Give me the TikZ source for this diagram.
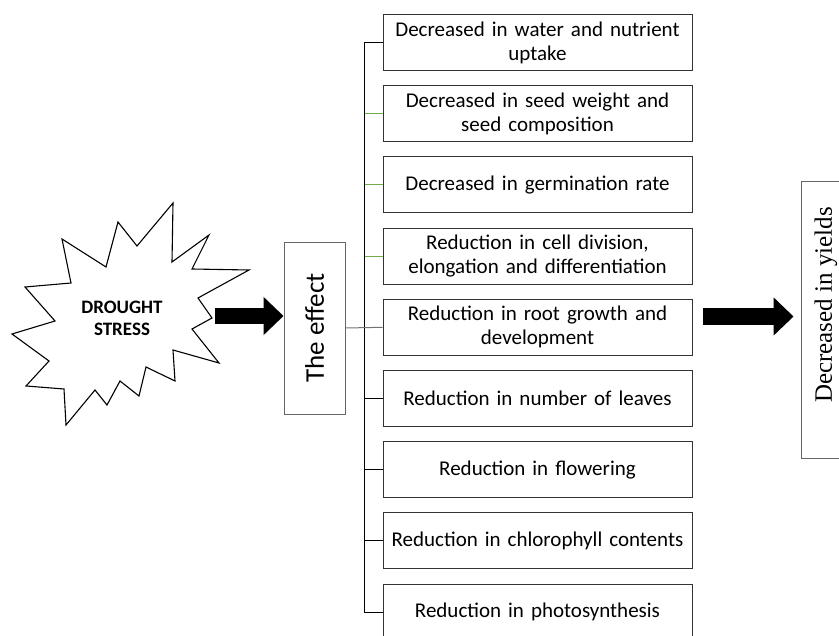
\documentclass[tikz,border=0pt]{standalone}
\usepackage{fontspec}
\setmainfont{Carlito}
\newfontfamily\yieldfont{Liberation Serif}
\usetikzlibrary{arrows.meta}
\definecolor{branchgreen}{RGB}{112,173,71}
\begin{document}
\begin{tikzpicture}[x=1pt,y=-1pt,
  effbox/.style={draw=black!80, line width=0.9pt, minimum width=309pt, minimum height=56pt, inner sep=0pt, text width=309pt, align=center, font={\fontsize{21}{24}\selectfont\hyphenpenalty=10000\relax}},
  bigarrow/.style={line width=16.5pt, -{Triangle[length=20pt,width=37pt]}},
  branch/.style={line width=1pt}]
\useasboundingbox (0,0) rectangle (839,636);
% the burst
\draw[line width=1.1pt, line join=miter] (118,222) -- (137,246) -- (173,203) -- (172,262) -- (209,235) -- (192,269) -- (249,270) -- (198,298) -- (212,318) -- (192,329) -- (219,363) -- (173,350) -- (175,381) -- (146,367) -- (139,396) -- (120,381) -- (107,405) -- (95,390) -- (66,425) -- (64,389) -- (26,386) -- (49,361) -- (12,334) -- (55,321) -- (25,287) -- (71,283) -- (62,239) -- (106,267) -- cycle;
\node[font=\bfseries\fontsize{19}{22}\selectfont, align=center] (drought) at (122,318) {DROUGHT\\STRESS};
\node[draw=black!60, line width=0.9pt, rotate=90, minimum width=172pt, minimum height=61pt, inner sep=0pt, font=\fontsize{27}{30}\selectfont] (effect) at (314.5,328) {The effect};
\node[effbox] (eff1) at (537.5,42.5) {Decreased in water and nutrient\\uptake};
\node[effbox] (eff2) at (537.5,113.7) {Decreased in seed weight and\\seed composition};
\node[effbox] (eff3) at (537.5,184.9) {Decreased in germination rate};
\node[effbox] (eff4) at (537.5,256.1) {Reduction in cell division,\\elongation and differentiation};
\node[effbox] (eff5) at (537.5,327.3) {Reduction in root growth and\\development};
\node[effbox] (eff6) at (537.5,398.5) {Reduction in number of leaves};
\node[effbox] (eff7) at (537.5,469.7) {Reduction in flowering};
\node[effbox] (eff8) at (537.5,540.9) {Reduction in chlorophyll contents};
\node[effbox] (eff9) at (537.5,612.1) {Reduction in photosynthesis};
\node[draw=black!60, line width=0.9pt, rotate=90, minimum width=277pt, minimum height=50pt, inner sep=0pt, font=\yieldfont\fontsize{25}{28}\selectfont] (yield) at (826,319.5) {\hspace*{29pt}Decreased in yields};
% bracket
\draw[line width=1.2pt] (eff1.west) -- ++(-18,0) |- (eff9.west);
\draw[branchgreen, line width=0.8pt] (eff2.west) -- ++(-18,0);
\draw[branchgreen, line width=0.8pt] (eff3.west) -- ++(-18,0);
\draw[branchgreen, line width=0.8pt] (eff4.west) -- ++(-18,0);
\draw[black!55, line width=1pt] (effect.south) -- (eff5.west);
\draw[branch] (eff6.west) -- ++(-18,0);
\draw[branch] (eff7.west) -- ++(-18,0);
\draw[branch] (eff8.west) -- ++(-18,0);
% arrows
\coordinate (burstR) at (215,316);
\draw[bigarrow] (burstR) -- (burstR -| effect.north);
\coordinate (arrR) at (703,316.5);
\draw[bigarrow, shorten >=7pt] (arrR) -- (arrR -| yield.north);
\end{tikzpicture}
\end{document}
